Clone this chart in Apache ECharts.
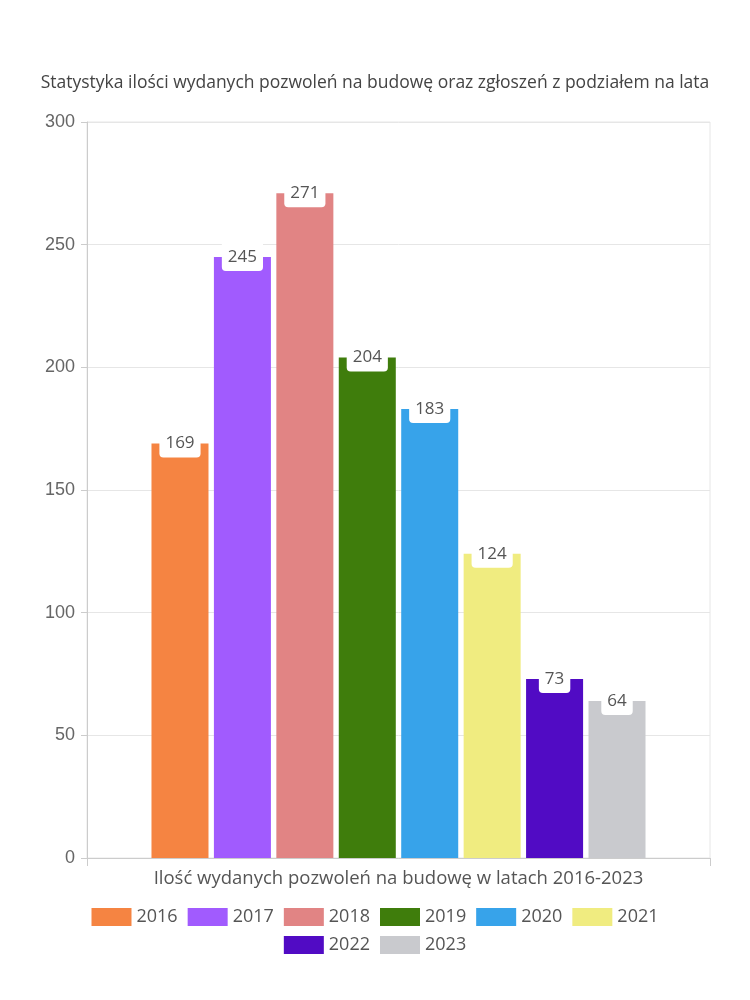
<!DOCTYPE html>
<html>
<head>
<meta charset="utf-8">
<script src="https://cdn.jsdelivr.net/npm/echarts@6/dist/echarts.min.js"></script>
<style>html,body{margin:0;padding:0;background:#fff}#c{width:750px;height:1000px}</style>
</head>
<body>
<div id="c"></div>
<script>
const titleText = 'Statystyka ilości wydanych pozwoleń na budowę oraz zgłoszeń z podziałem na lata';
const categories = ['Ilość wydanych pozwoleń na budowę w latach 2016-2023'];
const years = ['2016', '2017', '2018', '2019', '2020', '2021', '2022', '2023'];
const values = [169, 245, 271, 204, 183, 124, 73, 64];
const colors = ['#F58442', '#A15BFE', '#E18484', '#3F7D0C', '#37A3EA', '#F0EC80', '#510BC4', '#C9CACE'];
const yTicks = { min: 0, max: 300, interval: 50 };
const legendRow1 = years.slice(0, 6);
const legendRow2 = years.slice(6);

const FONT = 'Open Sans';
const chart = echarts.init(document.getElementById('c'), null, { renderer: 'canvas' });
const series = years.map((y, i) => ({
  name: y,
  type: 'bar',
  data: [values[i]],
  itemStyle: { color: colors[i] },
  barGap: '9.5%',
  barCategoryGap: '20.7%',
  label: {
    show: true,
    position: 'insideTop',
    distance: 0,
    offset: [0, -14],
    fontFamily: FONT,
    fontSize: 17,
    color: '#555',
    backgroundColor: '#fff',
    padding: [6, 6, 6, 6],
    lineHeight: 16,
    borderRadius: [0, 0, 4, 4]
  }
}));

const legendCommon = {
  left: 'center',
  itemWidth: 40,
  itemHeight: 18,
  itemGap: 10,
  icon: 'rect',
  textStyle: { fontFamily: FONT, fontSize: 18, color: '#555', lineHeight: 18 }
};

chart.setOption({
  animation: false,
  title: {
    text: titleText,
    left: 'center',
    top: 69,
    textStyle: { fontFamily: FONT, fontSize: 17.5, fontWeight: 'normal', color: '#444' }
  },
  grid: { left: 87, right: 40, top: 122, bottom: 142, show: true, borderColor: '#e6e6e6', borderWidth: 1 },
  legend: [
    Object.assign({ data: legendRow1, top: 903 }, legendCommon),
    Object.assign({ data: legendRow2, top: 931 }, legendCommon)
  ],
  xAxis: {
    type: 'category',
    data: categories,
    axisLine: { lineStyle: { color: '#ccc' } },
    axisTick: { show: true, length: 8, lineStyle: { color: '#ccc' } },
    axisLabel: { fontFamily: FONT, fontSize: 18.5, color: '#555', margin: 11 }
  },
  yAxis: {
    type: 'value',
    min: yTicks.min,
    max: yTicks.max,
    interval: yTicks.interval,
    axisLine: { show: true, lineStyle: { color: '#ccc' } },
    axisTick: { show: true, length: 6, lineStyle: { color: '#ccc' } },
    axisLabel: { fontFamily: 'Liberation Sans', fontSize: 18, color: '#666', margin: 12 },
    splitLine: { lineStyle: { color: '#e6e6e6' } }
  },
  series: series
});
</script>
</body>
</html>
